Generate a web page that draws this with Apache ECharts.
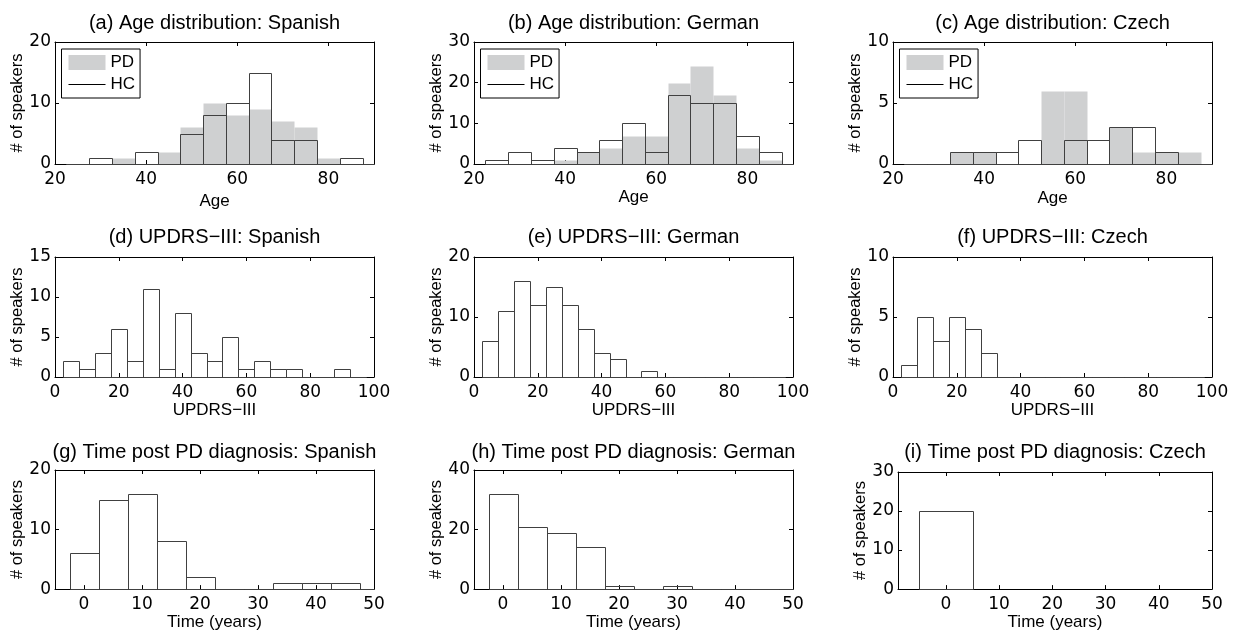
<!DOCTYPE html>
<html><head><meta charset="utf-8">
<script src="https://cdn.jsdelivr.net/npm/echarts@6/dist/echarts.min.js"></script>
<style>html,body{margin:0;padding:0;background:#fff}#c{width:1234px;height:632px}</style>
</head><body><div id="c"></div>
<script>
// ---------------- data ----------------
const ageCenters   = [25,30,35,40,45,50,55,60,65,70,75,80,85,90];
const ageSpanishPD = [0,0,1,0,2,6,10,8,9,7,6,1,0,0];
const ageSpanishHC = [0,1,0,2,0,5,8,10,15,4,4,0,1,0];
const ageGermanPD  = [0,0,0,1,3,4,7,7,20,24,17,4,1,0];
const ageGermanHC  = [1,3,1,4,3,6,10,3,17,15,15,7,3,0];
const ageCzechPD   = [0,0,1,1,0,0,6,6,0,3,1,1,1,0];
const ageCzechHC   = [0,0,1,1,1,2,0,2,2,3,3,1,0,0];

const updrsCenters = [5,10,15,20,25,30,35,40,45,50,55,60,65,70,75,80,85,90,95];
const updrsSpanish = [2,1,3,6,2,11,1,8,3,2,5,1,2,1,1,0,0,1,0];
const updrsGerman  = [6,11,16,12,15,12,8,4,3,0,1,0,0,0,0,0,0,0,0];
const updrsCzech   = [1,5,3,5,4,2,0,0,0,0,0,0,0,0,0,0,0,0,0];

const timeCenters  = [0,5,10,15,20,25,30,35,40,45,50];
const timeSpanish  = [6,15,16,8,2,0,0,1,1,1,0];
const timeGerman   = [32,21,19,14,1,0,1,0,0,0,0];
const timeCzechCenters = [0];
const timeCzech    = [20];

const ageBinWidth = 5, updrsBinWidth = 5, timeBinWidth = 5, timeCzechBinWidth = 10;

const titles = [
  '(a) Age distribution: Spanish', '(b) Age distribution: German', '(c) Age distribution: Czech',
  '(d) UPDRS\u2212III: Spanish', '(e) UPDRS\u2212III: German', '(f) UPDRS\u2212III: Czech',
  '(g) Time post PD diagnosis: Spanish', '(h) Time post PD diagnosis: German', '(i) Time post PD diagnosis: Czech'
];
const xNames = ['Age','Age','Age','UPDRS\u2212III','UPDRS\u2212III','UPDRS\u2212III','Time (years)','Time (years)','Time (years)'];
const yName = '# of speakers';
const legendNames = ['PD','HC'];

// ---------------- layout / style ----------------
const FONT = '"Liberation Sans", Arial, sans-serif';
const TICKFONT = '"DejaVu Sans", sans-serif';
const GRAY = '#cfd0d1';
const EDGE = '#404040';

const pairs = (c, v) => c.map((x, i) => [x, v[i]]);

function histRender(binWidth, fill, stroke) {
  return function (params, api) {
    const c = api.value(0), v = api.value(1);
    const p0 = api.coord([c - binWidth / 2, v]);
    const p1 = api.coord([c + binWidth / 2, 0]);
    const cs = params.coordSys;
    let x0 = Math.max(p0[0], cs.x), x1 = Math.min(p1[0], cs.x + cs.width);
    if (x1 <= x0) return;
    x0 = Math.round(x0) + 0.5; x1 = Math.round(x1) + 0.5;
    const y0 = Math.round(p0[1]) + 0.5, y1 = Math.round(p1[1]) + 0.5;
    return {
      type: 'rect',
      shape: { x: x0, y: y0, width: x1 - x0, height: y1 - y0 },
      style: { fill: fill, stroke: stroke, lineWidth: stroke ? 1 : 0 }
    };
  };
}

const panels = [
  { g:{left:55, top:42, width:319, height:122}, x:[20,90,20], y:[0,20,10], nameGap:29,
    series:[['PD', ageCenters, ageSpanishPD, ageBinWidth, 'pd'], ['HC', ageCenters, ageSpanishHC, ageBinWidth, 'hc']] },
  { g:{left:474, top:42, width:319, height:122}, x:[20,90,20], y:[0,30,10], nameGap:24.5,
    series:[['PD', ageCenters, ageGermanPD, ageBinWidth, 'pd'], ['HC', ageCenters, ageGermanHC, ageBinWidth, 'hc']] },
  { g:{left:893, top:42, width:319, height:122}, x:[20,90,20], y:[0,10,5], nameGap:25.5,
    series:[['PD', ageCenters, ageCzechPD, ageBinWidth, 'pd'], ['HC', ageCenters, ageCzechHC, ageBinWidth, 'hc']] },
  { g:{left:55, top:257, width:319, height:120}, x:[0,100,20], y:[0,15,5], nameGap:24.5,
    series:[['UPDRS Spanish', updrsCenters, updrsSpanish, updrsBinWidth, 'hc']] },
  { g:{left:474, top:257, width:319, height:120}, x:[0,100,20], y:[0,20,10], nameGap:24.5,
    series:[['UPDRS German', updrsCenters, updrsGerman, updrsBinWidth, 'hc']] },
  { g:{left:893, top:257, width:319, height:120}, x:[0,100,20], y:[0,10,5], nameGap:24.5,
    series:[['UPDRS Czech', updrsCenters, updrsCzech, updrsBinWidth, 'hc']] },
  { g:{left:55, top:470, width:319, height:122}, x:[-5,50,null], y:[0,20,10], nameGap:21.5,
    series:[['Time Spanish', timeCenters, timeSpanish, timeBinWidth, 'hc']] },
  { g:{left:474, top:470, width:319, height:122}, x:[-5,50,null], y:[0,40,20], nameGap:21.5,
    series:[['Time German', timeCenters, timeGerman, timeBinWidth, 'hc']] },
  { g:{left:898, top:472, width:314, height:120}, x:[-9,50,null], y:[0,30,10], nameGap:21.5,
    series:[['Time Czech', timeCzechCenters, timeCzech, timeCzechBinWidth, 'hc']] }
];

const grid = [], xAxis = [], yAxis = [], series = [], title = [], legend = [];
const lineBlack = { lineStyle: { color: '#000', width: 1 } };

panels.forEach((p, i) => {
  grid.push(Object.assign({ containLabel: false }, p.g));
  const xBase = {
    gridIndex: i, type: 'value', min: p.x[0], max: p.x[1],
    axisLine: Object.assign({ show: true, onZero: false }, lineBlack),
    axisTick: { show: true, inside: true, length: 4, lineStyle: { color: '#000' } },
    splitLine: { show: false }
  };
  if (p.x[2]) xBase.interval = p.x[2]; else xBase.splitNumber = 5;
  xAxis.push(Object.assign({}, xBase, {
    position: 'bottom',
    name: xNames[i], nameLocation: 'middle', nameGap: p.nameGap,
    nameTextStyle: { fontFamily: FONT, fontSize: 17, color: '#000' },
    axisLabel: {
      show: true, margin: 7, color: '#000', fontFamily: TICKFONT, fontSize: 17,
      showMaxLabel: p.x[2] ? (p.x[1] % p.x[2] === 0) : true,
      showMinLabel: p.x[2] ? true : false,
      formatter: v => (Math.abs(v % 10) < 1e-9 ? String(v) : '')
    }
  }));
  xAxis.push(Object.assign({}, xBase, { position: 'top', axisLabel: { show: false } }));
  const yBase = {
    gridIndex: i, type: 'value', min: p.y[0], max: p.y[1], interval: p.y[2],
    axisLine: Object.assign({ show: true, onZero: false }, lineBlack),
    axisTick: { show: true, inside: true, length: 4, lineStyle: { color: '#000' } },
    splitLine: { show: false }
  };
  yAxis.push(Object.assign({}, yBase, {
    position: 'left',
    name: yName, nameLocation: 'middle', nameGap: 29,
    nameTextStyle: { fontFamily: FONT, fontSize: 16.5, color: '#000' },
    axisLabel: { show: true, margin: 4, color: '#000', fontFamily: TICKFONT, fontSize: 17 }
  }));
  yAxis.push(Object.assign({}, yBase, { position: 'right', axisLabel: { show: false } }));

  p.series.forEach(s => {
    const isPD = s[4] === 'pd';
    series.push({
      type: 'custom', name: s[0],
      xAxisIndex: 2 * i, yAxisIndex: 2 * i,
      data: pairs(s[1], s[2]),
      itemStyle: { color: isPD ? GRAY : '#000' },
      renderItem: histRender(s[3], isPD ? GRAY : 'rgba(0,0,0,0)', isPD ? null : EDGE),
      silent: true, animation: false, z: isPD ? 2 : 3
    });
  });

  const rowTitleTop = [13.5, 227, 442][Math.floor(i / 3)];
  title.push({
    text: titles[i], left: p.g.left + p.g.width / 2, top: rowTitleTop, textAlign: 'center', padding: 0,
    textStyle: { fontFamily: FONT, fontSize: 20, fontWeight: 'normal', color: '#000' }
  });

  if (i < 3) {
    legend.push({
      data: [
        { name: legendNames[0], icon: 'rect' },
        { name: legendNames[1], icon: 'path://M0,0L40,0L40,1L0,1Z' }
      ],
      orient: 'vertical', left: p.g.left + 6.5, top: 49,
      itemWidth: 37, itemHeight: 15, itemGap: 5,
      padding: [5, 5, 5, 7], borderColor: '#000', borderWidth: 1,
      selectedMode: false,
      textStyle: { fontFamily: FONT, fontSize: 17, color: '#000' }
    });
  }
});

const chart = echarts.init(document.getElementById('c'), null, { renderer: 'canvas' });
chart.setOption({
  animation: false,
  backgroundColor: '#fff',
  textStyle: { fontFamily: FONT },
  title, legend, grid, xAxis, yAxis, series
});
</script></body></html>
